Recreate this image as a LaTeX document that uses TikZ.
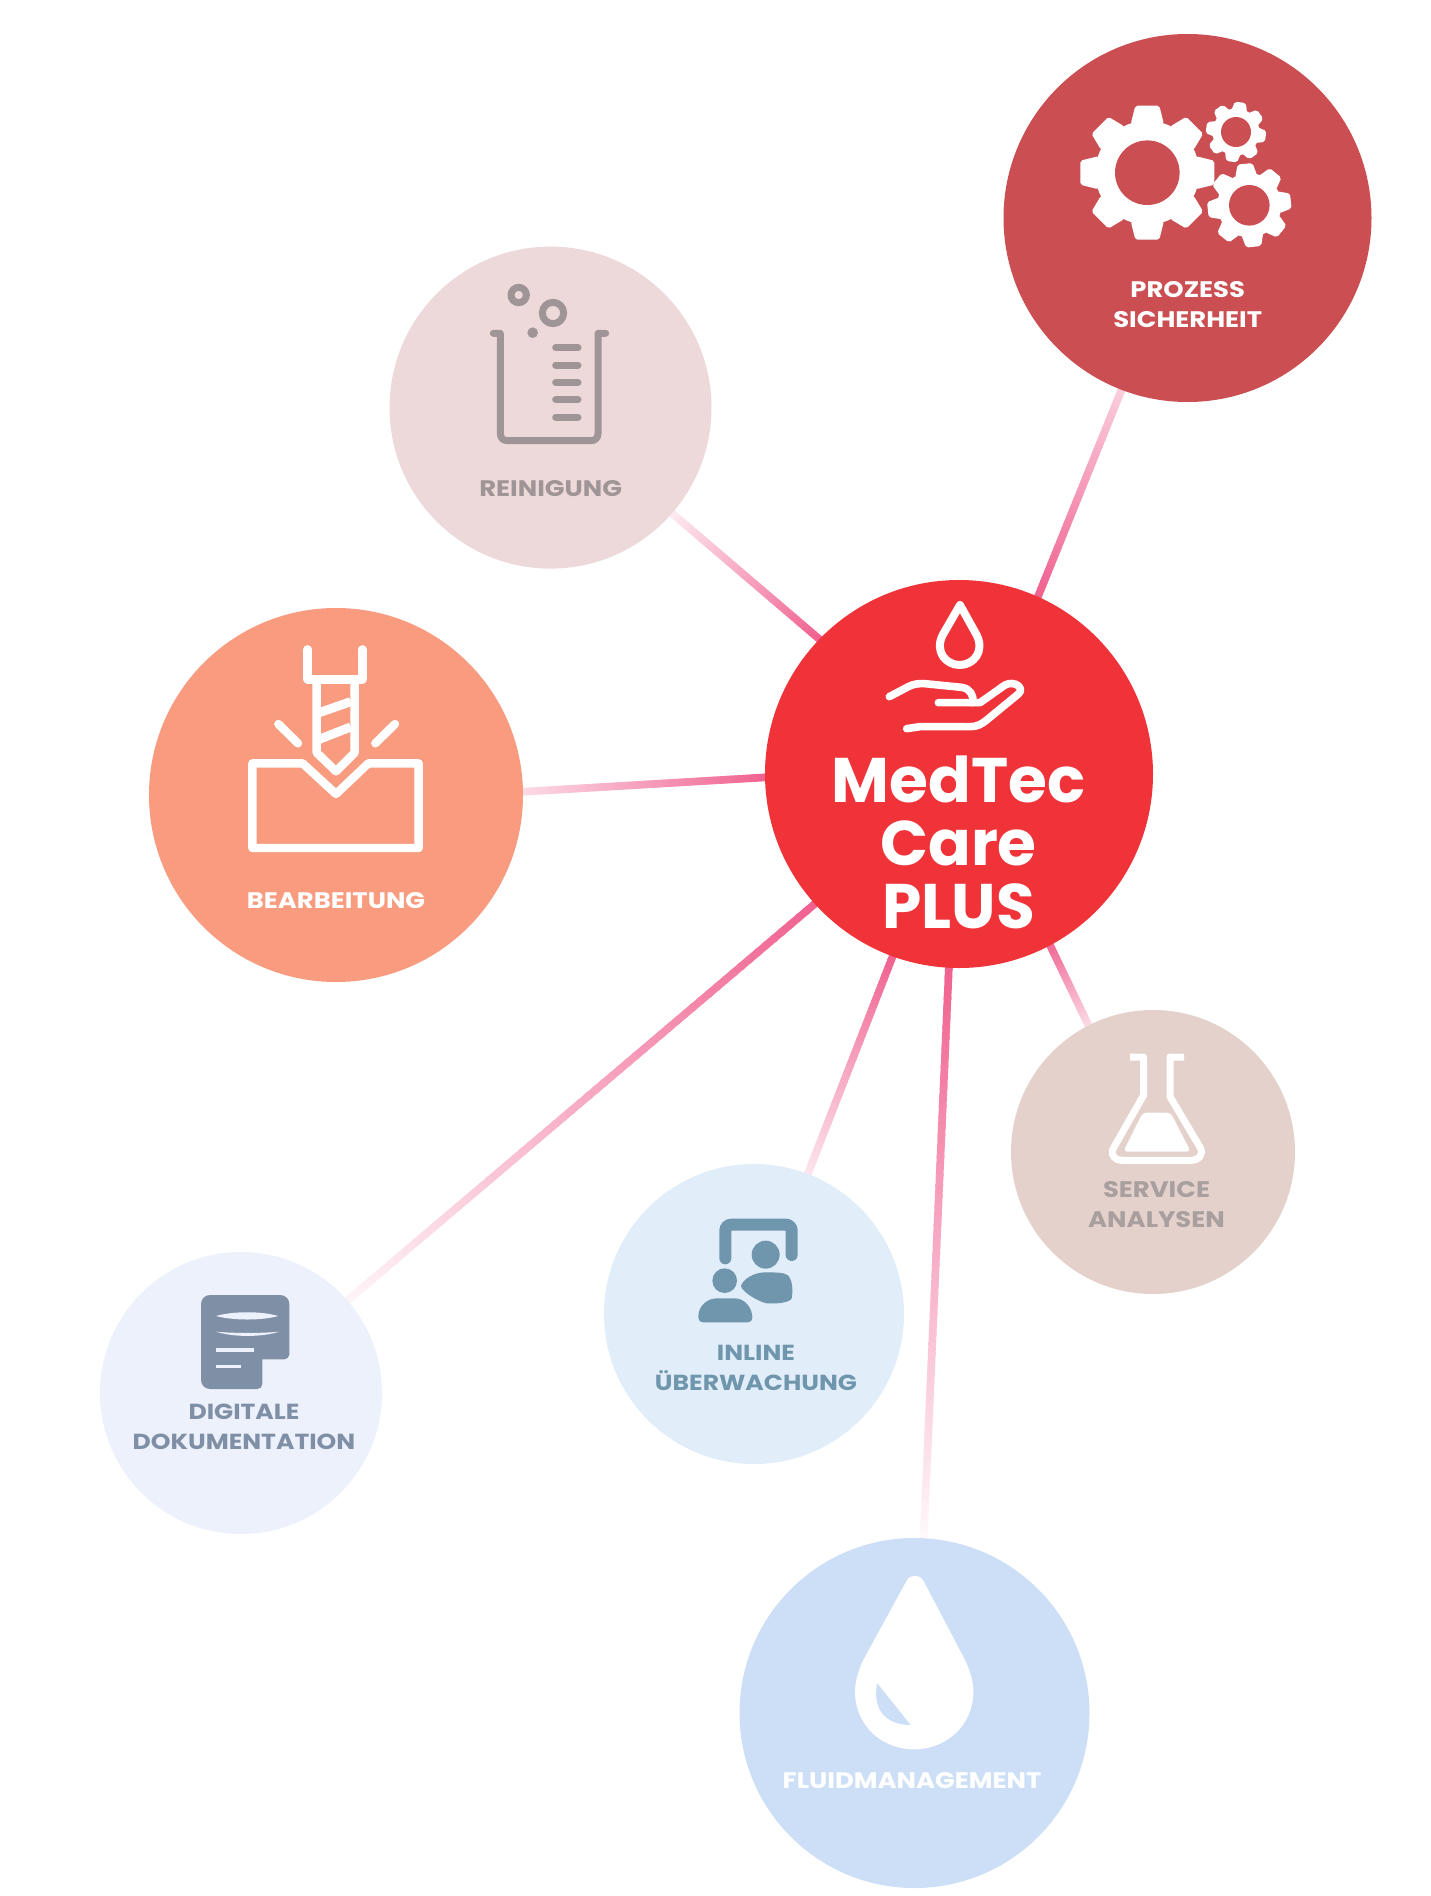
\documentclass[tikz,border=0pt]{standalone}
\usepackage{fontspec}
\setmainfont{Poppins}[BoldFont={Poppins Bold}]
\newfontfamily\lblfont{Poppins Bold}[FakeStretch=1.15]
\newfontfamily\hubfont{Poppins Bold}
\usetikzlibrary{calc}
\pgfdeclarelayer{under}
\pgfsetlayers{under,main}
\definecolor{cpink}{HTML}{F0608F}
\definecolor{chub}{HTML}{EF3339}
\definecolor{cproz}{HTML}{CB4E52}
\definecolor{crein}{HTML}{EED9DA}
\definecolor{cbear}{HTML}{F99B7E}
\definecolor{cserv}{HTML}{E4D1CB}
\definecolor{cinl}{HTML}{E1EEFA}
\definecolor{cdig}{HTML}{ECF1FB}
\definecolor{cflu}{HTML}{CDDFF6}
\definecolor{treinig}{HTML}{A09596}
\definecolor{tserv}{HTML}{A89F9E}
\definecolor{tinl}{HTML}{6F96AD}
\definecolor{tdig}{HTML}{7F8FA6}
\tikzset{
 disc/.style={circle,inner sep=0pt,outer sep=0pt,draw=none},
 lbl/.style={inner sep=0pt,outer sep=0pt,align=center,font=\fontsize{22.5}{30}\selectfont\lblfont},
 lblsmall/.style={lbl,font=\fontsize{21.8}{30}\selectfont\lblfont},
 hubtext/.style={inner sep=0pt,outer sep=0pt,align=center,text=white,font=\fontsize{63}{63}\selectfont\hubfont},
 linkline/.style={line width=7.6pt,line cap=butt},
 zoomed/.style={x=.33333pt,y=-.33333pt},
}
% connector: start point, end point, start strength, end strength
\newcommand{\conn}[4]{%
 \foreach \ii in {0,...,59}{%
  \pgfmathsetmacro{\ta}{-0.02+1.04*\ii/60}%
  \pgfmathsetmacro{\tb}{-0.02+1.04*(\ii+1.4)/60}%
  \pgfmathsetmacro{\mx}{#3+(#4-#3)*\ii/59}%
  \draw[linkline,draw=cpink!\mx!white] ($#1!\ta!#2$) -- ($#1!\tb!#2$);
 }}
\newcommand{\gear}[7]{% x y outer root tipHalf baseHalf offset
 \begin{scope}[shift={(#1,#2)}]
  \fill[white] (0,0) circle (#4pt);
  \foreach \a in {0,45,...,315}{
   \fill[white,rotate=\a+#7,rounded corners=2pt] (#4-3,-#6) -- (#3,-#5) -- (#3,#5) -- (#4-3,#6) -- cycle;
  }
 \end{scope}}
\begin{document}
\begin{tikzpicture}[x=1pt,y=-1pt]
\useasboundingbox (0,0) rectangle (1431,1896);
% discs
\node[disc,fill=chub,minimum size=388pt] (hub) at (959,774) {};
\node[disc,fill=cproz,minimum size=368pt] (proz) at (1187.5,218) {};
\node[disc,fill=crein,minimum size=322pt] (rein) at (550.5,407.6) {};
\node[disc,fill=cbear,minimum size=374pt] (bear) at (336,795) {};
\node[disc,fill=cserv,minimum size=284pt] (serv) at (1153,1152) {};
\node[disc,fill=cinl,minimum size=300pt] (inl) at (754,1314) {};
\node[disc,fill=cdig,minimum size=282pt] (digi) at (241,1393) {};
\node[disc,fill=cflu,minimum size=350pt] (flui) at (914.5,1713) {};
% connectors
\begin{pgfonlayer}{under}
\fill[white] (0,0) rectangle (1431,1896);
\conn{(hub.66.4)}{(proz.249.3)}{100}{30}
\conn{(hub.136)}{(rein.-41.5)}{100}{12}
\conn{(hub.181.6)}{(bear.1.4)}{100}{22}
\conn{(hub.222.9)}{(digi.41)}{100}{5}
\conn{(hub.250.3)}{(inl.69)}{100}{15}
\conn{(hub.267.2)}{(flui.87.3)}{100}{3}
\conn{(hub.-62.2)}{(serv.117.2)}{95}{22}
\end{pgfonlayer}
% Gears
\gear{1147.3}{172.7}{67}{52}{12}{16.5}{0}
\fill[cproz] (1147.3,172.7) circle (32.3pt);
\gear{1236}{132}{30}{23.5}{5.5}{8}{-8.6}
\fill[cproz] (1236,132) circle (15pt);
\gear{1249.3}{205.3}{41.7}{32}{7.5}{11}{6}
\fill[cproz] (1249.3,205.3) circle (20.3pt);
\node[lbl,text=white] (tproz) at (1187.7,305) {PROZESS\\SICHERHEIT};
% Beaker
\begin{scope}[shift={(460,270)},zoomed,treinig,line width=7pt,line cap=round,line join=round]
 \draw (100,190) -- (121,190) -- (121,492) arc[start angle=180,end angle=90,radius=20] -- (394,512) arc[start angle=90,end angle=0,radius=20] -- (414,190) -- (437,190);
 \foreach \yy in {233,285,337,389,441} \draw (287,\yy) -- (354,\yy);
 \draw (176,75) circle[radius=23];
 \draw (279,129) circle[radius=32];
 \fill (218,188) circle[radius=16];
\end{scope}
\node[lbl,text=treinig] (trein) at (550.7,489) {REINIGUNG};
% Drill
\begin{scope}[shift={(230,630)},zoomed,draw=white,line width=8.4pt,line join=round,line cap=round]
 \draw (67,400) -- (218,400) -- (318,492) -- (415,400) -- (566,400) -- (566,654) -- (67,654) -- cycle;
 \draw (233,58) -- (233,148) -- (397,148) -- (397,58);
 \draw (260,148) -- (260,368) -- (318,424) -- (374,368) -- (374,148);
 \draw[line cap=butt,line width=9pt] (262,250) -- (362,215);
 \draw[line cap=butt,line width=9pt] (262,330) -- (362,291);
 \draw (145,282) -- (204,340);
 \draw (495,282) -- (436,340);
\end{scope}
\node[lbl,text=white] (tbear) at (336,901) {BEARBEITUNG};
% Hub icon
\begin{scope}[shift={(810,580)},zoomed,draw=white,line width=8pt,line cap=round,line join=round]
 \draw (450,75) -- (500,165) .. controls (525,215) and (490,255) .. (449,255) .. controls (408,255) and (373,215) .. (398,165) -- cycle;
 \draw[line width=7.6pt] (238,350) -- (295,320) .. controls (310,312) and (325,310) .. (345,311) -- (455,322) .. controls (480,326) and (492,345) .. (488,368);
 \draw[line width=7.6pt] (385,368) -- (510,368) -- (585,315) .. controls (615,300) and (645,325) .. (625,342) -- (530,420) .. controls (515,433) and (500,440) .. (480,440) -- (330,440) -- (290,446);
\end{scope}
\node[hubtext] (thub) at (958.5,842) {MedTec\\Care\\PLUS};
% Flask
\begin{scope}[shift={(1090,1040)},zoomed]
 \draw[white,line width=7pt,line join=round] (120,51) -- (161,51) -- (161,165) -- (70,325) .. controls (60,345) and (75,361) .. (95,361) -- (305,361) .. controls (325,361) and (340,345) .. (332,325) -- (240,170) -- (240,51) -- (282,51);
 \fill[white,rounded corners=4pt] (158,218) -- (242,218) -- (302,335) -- (100,335) -- cycle;
\end{scope}
\node[lbl,text=tserv] (tserv) at (1156.5,1205) {SERVICE\\ANALYSEN};
% Inline icon
\begin{scope}[shift={(680,1210)},zoomed,tinl]
 \draw[line width=12pt,line cap=round,rounded corners=6pt] (136,145) -- (136,44) -- (335,44) -- (335,135);
 \fill (257,134) circle[radius=42];
 \fill (134,212) circle[radius=37];
 \fill (55,320) .. controls (55,285) and (85,265) .. (110,265) -- (165,265) .. controls (195,265) and (217,295) .. (217,322) .. controls (217,333) and (210,337) .. (200,337) -- (70,337) .. controls (60,337) and (55,330) .. (55,320) -- cycle;
 \fill (183,228) .. controls (190,205) and (225,187) .. (255,187) .. controls (285,187) and (315,187) .. (325,197) .. controls (340,215) and (338,250) .. (335,265) .. controls (330,278) and (290,282) .. (260,280) .. controls (235,275) and (185,245) .. (183,228) -- cycle;
\end{scope}
\node[lblsmall,text=tinl] (tinl) at (756,1367.5) {INLINE\\ÜBERWACHUNG};
% Digital document icon
\begin{scope}[shift={(190,1280)},zoomed,tdig]
 \fill[rounded corners=9pt] (33,186) -- (33,45) -- (298,45) [rounded corners=5pt] -- (298,238) [sharp corners] -- (217,238) [rounded corners=5pt] -- (217,327) [rounded corners=9pt] -- (33,327) -- cycle;
 \fill[cdig] (78,108) .. controls (130,93) and (215,93) .. (265,108) .. controls (215,122) and (130,122) .. (78,108) -- cycle;
 \fill[cdig] (78,155) .. controls (130,160) and (215,160) .. (268,155) .. controls (215,172) and (130,172) .. (78,155) -- cycle;
 \fill[cdig] (78,205) rectangle (191,215);
 \fill[cdig] (78,256) rectangle (152,264);
\end{scope}
\node[lblsmall,text=tdig] (tdig) at (244,1426.5) {DIGITALE\\DOKUMENTATION};
% Fluid icon
\begin{scope}[shift={(840,1560)},zoomed]
 \fill[white] (200,62) .. controls (212,42) and (238,42) .. (250,62) -- (375,300) .. controls (390,330) and (400,365) .. (400,395) .. controls (400,495) and (320,568) .. (222,568) .. controls (125,568) and (45,495) .. (45,395) .. controls (45,365) and (55,330) .. (70,300) -- cycle;
 \fill[cflu] (112,370) -- (212,495) .. controls (140,495) and (95,450) .. (112,370) -- cycle;
\end{scope}
\node[lbl,text=white] (tflui) at (912,1781) {FLUIDMANAGEMENT};
\end{tikzpicture}
\end{document}
